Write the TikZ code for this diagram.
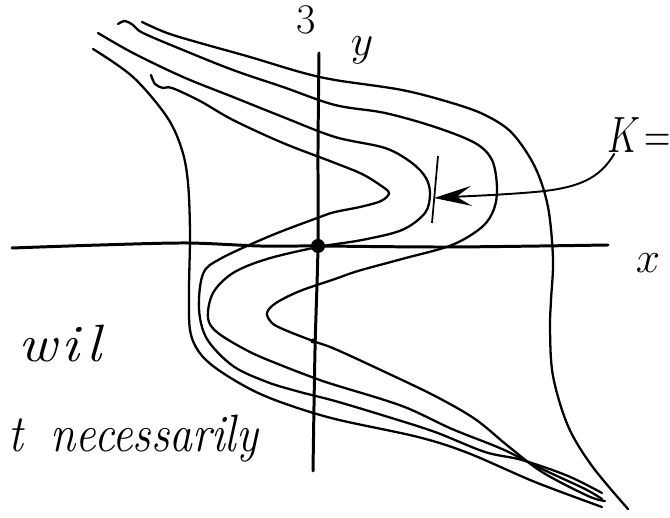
\documentclass[tikz,border=0pt]{standalone}
\usetikzlibrary{arrows.meta}

\begin{document}
\begin{tikzpicture}[x=0.2mm, y=-0.2mm,
	curve/.style={line width=1.3pt, line cap=round, line join=round},
	axis/.style={line width=1.7pt, line cap=round},
	hand/.style={inner sep=0pt, font=\fontsize{26}{30}\selectfont\itshape},
	pointer/.style={line width=1.1pt, -{Stealth[length=7.5mm, width=4mm, inset=3mm]}}]
	\useasboundingbox (0,0) rectangle (670,518);
	
	% axes
	\draw[axis] plot[smooth] coordinates {(12,248) (100,245) (187,243) (260,246) (318,246) (450,247) (608,245)};
	\draw[axis] plot[smooth] coordinates {(319,53) (318,150) (318,246) (315,350) (313,471)};
	\fill (318,246) circle[radius=1.4mm];
	\fill (313,341) circle[radius=0.5mm];
	
	% outer left
	\draw[curve] plot[smooth, tension=0.55] coordinates {(93,49) (133,77) (167,117) (182,150) (188,183) (190,233) (189,290) (190,330) (199,352) (217,369) (250,389) (283,403) (335,419) (418,437) (468,453) (535,482) (602,507)};
	% outer right
	\draw[curve] plot[smooth, tension=0.55] coordinates {(142,22) (167,33) (200,43) (250,57) (300,72) (335,80) (402,90) (452,103) (485,115) (512,133) (535,167) (548,207) (553,259) (551,300) (550,330) (553,376) (568,426) (592,466) (628,509)};
	% band
	\draw[curve] plot[smooth, tension=0.55] coordinates {(118,24) (125,21) (133,25) (143,33) (183,50) (233,70) (283,87) (335,105) (385,113) (435,127) (475,143) (492,160) (497,187) (494,209) (482,227) (452,245) (402,259) (358,271) (335,279) (300,291) (276,303) (267,313) (272,323) (285,330) (313,341) (335,349) (385,372) (435,396) (475,419) (508,446) (542,472) (588,496) (605,501)};
	\draw[curve] plot[smooth, tension=0.55] coordinates {(98,33) (133,53) (183,77) (233,97) (283,117) (335,137) (385,148) (412,163) (426,178) (430,194) (425,213) (402,230) (362,240) (318,247) (267,259) (233,273) (213,293) (208,318) (218,333) (250,352) (283,366) (317,379) (335,385) (402,406) (452,429) (502,449) (542,469) (585,489) (602,499)};
	\draw[curve] plot[smooth, tension=0.55] coordinates {(151,75) (155,84) (163,88) (172,88) (200,101) (233,120) (283,143) (335,163) (362,174) (380,185) (389,193) (381,201) (360,207) (335,212) (320,217) (270,236) (220,259) (203,274) (199,309) (207,339) (233,366) (267,382) (300,392) (335,401) (385,416) (435,432) (485,452) (522,460) (568,476) (602,493)};
	
	% marker and label
	\draw[line width=1pt] (438,156) -- (432,223);
	\coordinate (kmark) at (434,198);
	\node[hand, font=\fontsize{22}{26}\selectfont, yscale=1.4, anchor=base west] (klabel) at (607,153) {$K\!=$};
	\draw[pointer] ([xshift=1.5mm]klabel.south west) .. controls (600,178) and (580,188) .. (535,192) .. controls (500,195) and (470,196) .. (kmark);
	
	% texts
	\node[hand, font=\fontsize{24}{28}\selectfont, anchor=base] (three) at (306,34) {3};
	\node[hand] (ylabel) at (362,50) {$y$};
	\node[hand] (xlabel) at (648,263) {$x$};
	\node[hand, xscale=1.3, yscale=1.15, anchor=base west] (wil) at (18,362) {w\hspace{0.08em}i\hspace{0.12em}l};
	\node[hand, yscale=1.15, anchor=base west] (neces) at (8,452) {t\hspace{0.6em}necessarily};
\end{tikzpicture}
\end{document}
